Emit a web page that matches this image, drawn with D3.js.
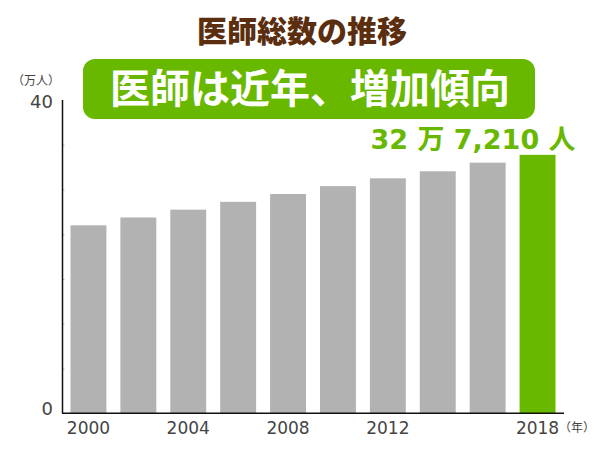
<!DOCTYPE html>
<html>
<head>
<meta charset="utf-8">
<script src="https://d3js.org/d3.v7.min.js"></script>
<style>
  body { margin: 0; background: #fff; }
  text { font-family: "DejaVu Sans", "Noto Sans CJK JP", sans-serif; }
</style>
</head>
<body>
<svg id="chart" width="600" height="450"></svg>
<script>
// values (万人)
var years = [2000, 2002, 2004, 2006, 2008, 2010, 2012, 2014, 2016, 2018];
var doctors = [24.0, 25.0, 26.0, 27.0, 28.0, 29.0, 30.0, 30.9, 32.0, 33.0];
var yearLabels = [2000, 2004, 2008, 2012, 2018];
var yLabels = [0, 40];

var title = "医師総数の推移",
  headline = "医師は近年、増加傾向",
  lastLabel = "32 万 7,210 人";

var svg = d3.select("#chart"),
  green = "#69b800",
  grey = "#b2b2b2",
  brown = "#5a2e0e"

var x = d3.scaleBand()
  .domain(years)
  .range([62, 564])
  .paddingInner(0.28)
  .paddingOuter(0.17);

var y = d3.scaleLinear()
  .domain([0, 40])
  .range([413.3, 100]);

// title
svg.append("text")
  .attr("x", 302).attr("y", 42)
  .attr("text-anchor", "middle")
  .attr("font-size", 30).attr("font-weight", 900)
  .attr("fill", brown)
  .text(title);

// green headline box
svg.append("rect")
  .attr("x", 83).attr("y", 59)
  .attr("width", 452).attr("height", 60)
  .attr("rx", 12)
  .attr("fill", green);

svg.append("text")
  .attr("x", 310).attr("y", 103)
  .attr("text-anchor", "middle")
  .attr("font-size", 40).attr("font-weight", "bold")
  .attr("fill", "#fff")
  .text(headline);

// bars
svg.selectAll(".bar")
  .data(doctors)
  .enter().append("rect")
  .attr("class", "bar")
  .attr("x", function (d, i) { return x(years[i]); })
  .attr("y", function (d) { return y(d); })
  .attr("width", x.bandwidth())
  .attr("height", function (d) { return y(0) - y(d); })
  .attr("fill", function (d, i) { return i === years.length - 1 ? green : grey; });

// label over the last bar
svg.append("text")
  .attr("x", 473).attr("y", 149)
  .attr("text-anchor", "middle")
  .attr("font-size", 27).attr("font-weight", "bold")
  .attr("fill", green)
  .text(lastLabel);

// y axis: line with faint minor ticks, only 0 and 40 labelled
var yAxis = svg.append("g")
  .attr("transform", "translate(62.5,0)")
  .call(d3.axisRight(y)
    .tickValues(d3.range(1, 7).map(function (i) { return i * 40 / 7; }))
    .tickSize(2)
    .tickFormat(""));
yAxis.select(".domain").remove();
yAxis.selectAll(".tick line").attr("stroke", "#bbb");

svg.append("line")
  .attr("x1", 62.5).attr("x2", 62.5)
  .attr("y1", y(40)).attr("y2", y(0))
  .attr("stroke", "#111").attr("stroke-width", 1.5);

svg.append("line")
  .attr("x1", 62).attr("x2", 564)
  .attr("y1", y(0)).attr("y2", y(0))
  .attr("stroke", "#111").attr("stroke-width", 1.5);

svg.selectAll(".ylab")
  .data(yLabels)
  .enter().append("text")
  .attr("class", "ylab")
  .attr("x", 53)
  .attr("y", function (d) { return y(d) + (d === 0 ? 2 : 8); })
  .attr("text-anchor", "end")
  .attr("font-size", 18)
  .attr("fill", "#444")
  .text(function (d) { return d; });

svg.append("text")
  .attr("x", 36).attr("y", 85)
  .attr("text-anchor", "middle")
  .attr("font-size", 12)
  .attr("fill", "#444")
  .text("（万人）");

// x labels
svg.selectAll(".xlab")
  .data(yearLabels)
  .enter().append("text")
  .attr("class", "xlab")
  .attr("x", function (d) { return x(d) + x.bandwidth() / 2; })
  .attr("y", 434)
  .attr("text-anchor", "middle")
  .attr("font-size", 17)
  .attr("fill", "#444")
  .text(function (d) { return d; });

svg.append("text")
  .attr("x", 577).attr("y", 432)
  .attr("text-anchor", "middle")
  .attr("font-size", 12)
  .attr("fill", "#444")
  .text("（年）");
</script>
</body>
</html>
